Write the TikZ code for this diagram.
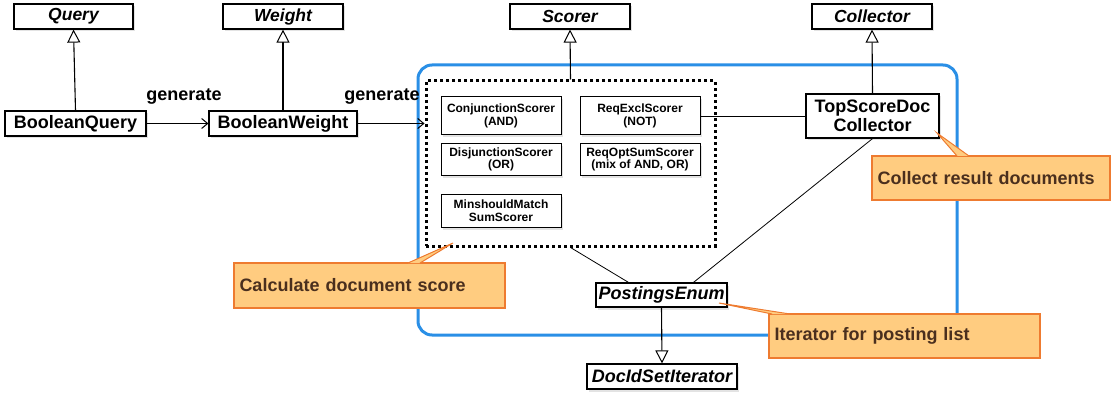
\documentclass[tikz,border=0pt]{standalone}
\usepackage{fontspec}
\setmainfont{Liberation Sans}
\usetikzlibrary{arrows.meta,shadows,calc}
\definecolor{blueframe}{HTML}{2A8FE6}
\definecolor{callfill}{HTML}{FFCC80}
\definecolor{calldraw}{HTML}{EE7B30}
\definecolor{calltext}{HTML}{4A2F1E}
\begin{document}
\begin{tikzpicture}[x=1pt,y=-1pt,
  cls/.style={draw=black, line width=1.2pt, fill=white, inner sep=0pt, align=center,
    drop shadow={shadow xshift=2pt,shadow yshift=-2.5pt,opacity=0.22},
    font=\bfseries\fontsize{18}{19.5}\selectfont},
  abs/.style={cls, font=\bfseries\itshape\fontsize{17.5}{19}\selectfont},
  small/.style={cls, line width=1pt, font=\bfseries\fontsize{12}{12.5}\selectfont},
  lbl/.style={inner sep=0pt, font=\bfseries\fontsize{18}{19}\selectfont},
  inherit/.style={line width=1.1pt, -{Triangle[fill=white,length=13pt,width=13pt,line width=1pt]}},
  gen/.style={line width=1pt, -{Straight Barb[length=6pt,width=10pt,line width=1pt]}},
  thin/.style={line width=0.8pt},
  callout/.style={fill=callfill, draw=calldraw, line width=1.2pt, inner xsep=5.5pt, inner ysep=0pt,
    align=left, text=calltext, font=\bfseries\fontsize{18}{19}\selectfont},
  ptr/.style={fill=callfill, draw=calldraw, line width=1pt, line join=miter}
]
\useasboundingbox (0,0) rectangle (1111,401);

% blue frame
\draw[blueframe, line width=3pt, rounded corners=14pt] (418,65) rectangle (957,335);

% top abstract classes
\node[abs, minimum width=119pt, minimum height=25pt] (query) at (73.5,16.5) {Query};
\node[abs, minimum width=120pt, minimum height=25pt] (weight) at (283,16.5) {Weight};
\node[abs, minimum width=120pt, minimum height=25pt] (scorer) at (570,16.5) {Scorer};
\node[abs, minimum width=120pt, minimum height=25pt] (collector) at (872,16.5) {Collector};

% query / weight
\node[cls, minimum width=141pt, minimum height=25pt] (bq) at (75.5,123.5) {BooleanQuery};
\node[cls, minimum width=148pt, minimum height=25pt] (bw) at (283,123.5) {BooleanWeight};
\node[lbl] (gen1) at (184,97) {generate};
\node[lbl] (gen2) at (382,97) {generate};

% dotted scorer group
\node[draw=black, line width=3pt, dash pattern=on 3pt off 3pt, minimum width=289pt, minimum height=165pt, inner sep=0pt] (dot) at (570.5,163.5) {};
\node[small, minimum width=120pt, minimum height=38pt] (conj) at (501,116) {ConjunctionScorer\\(AND)};
\node[small, minimum width=120pt, minimum height=38pt] (rex) at (640,116) {ReqExclScorer\\(NOT)};
\node[small, minimum width=120pt, minimum height=31pt] (disj) at (501,159.5) {DisjunctionScorer\\(OR)};
\node[small, minimum width=120pt, minimum height=31pt] (ropt) at (640,159.5) {ReqOptSumScorer\\(mix of AND, OR)};
\node[small, minimum width=120pt, minimum height=33pt] (minsh) at (501,210.5) {MinshouldMatch\\SumScorer};

% collector
\node[cls, minimum width=133pt, minimum height=44pt] (tsd) at (872.5,116) {TopScoreDoc\\Collector};

% postings
\node[abs, font=\bfseries\itshape\fontsize{18}{19}\selectfont, minimum width=131pt, minimum height=24pt] (pe) at (661.5,295) {PostingsEnum};
\node[abs, font=\bfseries\itshape\fontsize{18}{19}\selectfont, minimum width=150pt, minimum height=25pt] (dis) at (662,376.5) {DocIdSetIterator};

% connectors
\draw[inherit] (bq.north) -- (query.south);
\draw[inherit] (bw.north) -- (weight.south);
\draw[inherit] (dot.north) -- (scorer.south);
\draw[inherit] (tsd.north) -- (collector.south);
\draw[inherit] (pe.south) -- (dis.north);
\draw[gen] (bq.east) -- (bw.west);
\draw[gen] (bw.east) -- (bw.east -| dot.west);
\draw[thin] (rex.east) -- (rex.east -| tsd.west);
\draw[thin] (dot.south) -- ($(pe.north)+(-33,0)$);
\draw[thin] (tsd.south) -- ($(pe.north)+(32,0)$);

% callouts
\node[callout, minimum height=45pt, text width=260pt] (calc) at (369.5,285.5) {Calculate document score};
\coordinate (calcA) at (408,263);
\coordinate (calcB) at (420,263);
\coordinate (calcT) at (453,243);
\fill[callfill] (calcA) -- (calcT) -- (calcB) -- cycle;
\draw[ptr, fill=none] (calcA) -- (calcT) -- (calcB);

\node[callout, minimum height=44pt, text width=227pt] (coll) at (991,178) {Collect result documents};
\coordinate (collA) at (957,156);
\coordinate (collB) at (969,156);
\coordinate (collT) at (937,133);
\fill[callfill] (collA) -- (collT) -- (collB) -- cycle;
\draw[ptr, fill=none] (collA) -- (collT) -- (collB);

\node[callout, minimum height=44pt, text width=260pt] (iter) at (904.5,336) {Iterator for posting list};
\coordinate (iterA) at (772,314);
\coordinate (iterB) at (790,314);
\coordinate (iterT) at (719,303);
\fill[callfill] (iterA) -- (iterT) -- (iterB) -- cycle;
\draw[ptr, fill=none] (iterA) -- (iterT) -- (iterB);
\end{tikzpicture}
\end{document}
